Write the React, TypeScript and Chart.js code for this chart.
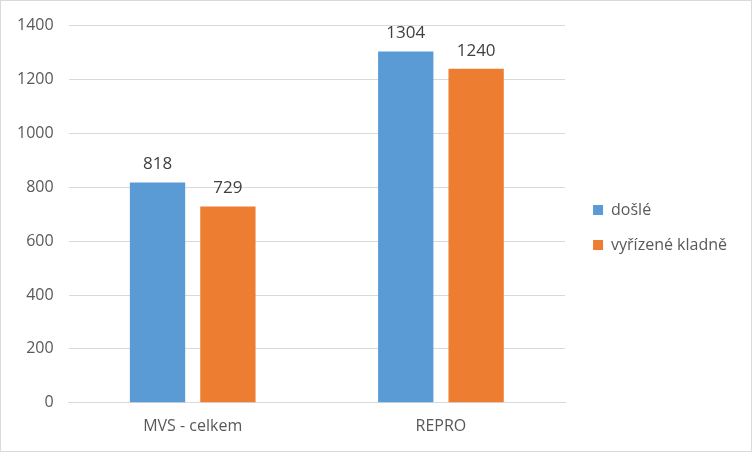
import React, { useEffect, useRef } from "react";
import { Chart, registerables } from "chart.js";

Chart.register(...registerables);

const categories = ["MVS - celkem", "REPRO"];
const seriesNames = ["došlé", "vyřízené kladně"];
const dosle = [818, 1304];
const vyrizene = [729, 1240];
const colors = ["#5B9BD5", "#ED7D31"];

const FONT = "'Open Sans', 'Noto Sans', sans-serif";

const valueLabels = {
  id: "valueLabels",
  afterDatasetsDraw(chart: any) {
    const ctx = chart.ctx;
    ctx.save();
    ctx.font = `17px ${FONT}`;
    ctx.fillStyle = "#404040";
    ctx.textAlign = "center";
    ctx.textBaseline = "alphabetic";
    chart.data.datasets.forEach((ds: any, i: number) => {
      const meta = chart.getDatasetMeta(i);
      meta.data.forEach((bar: any, j: number) => {
        ctx.fillText(String(ds.data[j]), bar.x, bar.y - 13);
      });
    });
    ctx.restore();
  },
};

const legendShift = {
  id: "legendShift",
  afterLayout(chart: any) {
    const lg = chart.legend;
    if (lg) {
      lg.left += 9;
      lg.right += 9;
    }
  },
};

export default function App() {
  const ref = useRef<HTMLCanvasElement>(null);
  useEffect(() => {
    const chart = new Chart(ref.current!, {
      type: "bar",
      data: {
        labels: categories,
        datasets: [
          { label: seriesNames[0], data: dosle, backgroundColor: colors[0] },
          { label: seriesNames[1], data: vyrizene, backgroundColor: colors[1] },
        ],
      },
      options: {
        animation: false,
        responsive: false,
        layout: { padding: { left: 1, right: 23, top: 12, bottom: 9 } },
        datasets: {
          bar: { categoryPercentage: 0.567, barPercentage: 0.786 },
        },
        plugins: {
          legend: {
            position: "right",
            labels: {
              boxWidth: 10,
              boxHeight: 10,
              padding: 19,
              color: "#595959",
              font: { family: FONT, size: 16 },
            },
          },
          tooltip: { enabled: false },
        },
        scales: {
          x: {
            grid: { display: false },
            border: { display: true, color: "#d9d9d9" },
            ticks: { color: "#595959", font: { family: FONT, size: 16 }, padding: 6 },
          },
          y: {
            min: 0,
            max: 1400,
            ticks: {
              stepSize: 200,
              color: "#595959",
              font: { family: FONT, size: 16 },
              padding: 15,
              callback: (v: any) => String(v),
            },
            grid: { color: "#d9d9d9", drawTicks: false },
            border: { display: false },
          },
        },
      },
      plugins: [valueLabels, legendShift],
    });
    return () => chart.destroy();
  }, []);
  return (
    <div
      style={{
        position: "absolute",
        left: 0,
        top: 0,
        width: 752,
        height: 452,
        boxSizing: "border-box",
        border: "1px solid #d9d9d9",
        background: "#fff",
      }}
    >
      <canvas ref={ref} width={750} height={450} style={{ display: "block" }} />
    </div>
  );
}
